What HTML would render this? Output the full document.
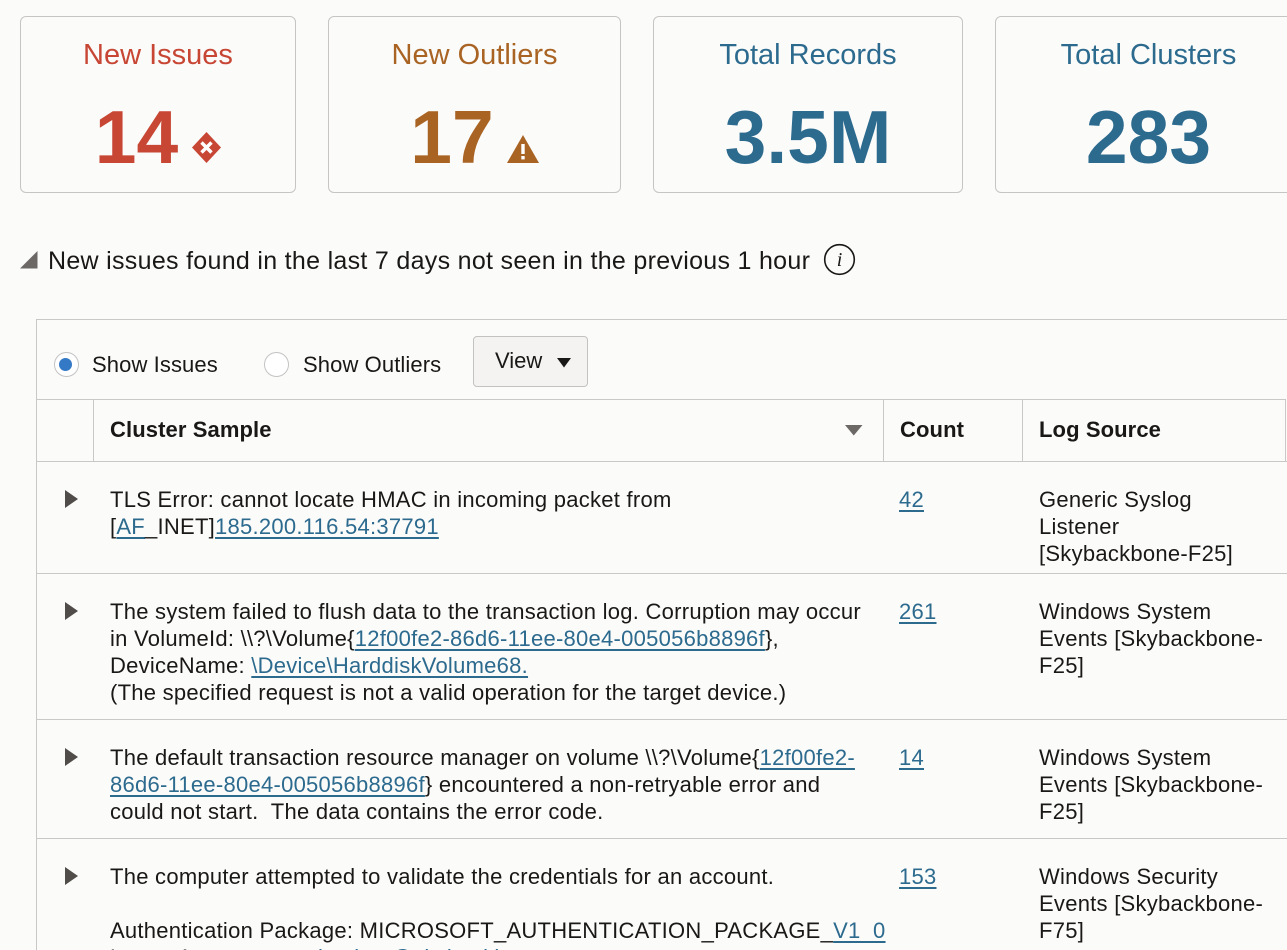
<!DOCTYPE html>
<html>
<head>
<meta charset="utf-8">
<style>
  html, body { margin:0; padding:0; width:1287px; height:950px; overflow:hidden; }
  body {
    background:#fbfbfa; color:#1a1816;
    font-family:"Liberation Sans", Arial, sans-serif;
  }
  #root { position:relative; width:1287px; height:950px; overflow:hidden; background:#fbfbfa; }
  .abs { position:absolute; }
  .card {
    position:absolute; top:16px; height:177px; box-sizing:border-box;
    border:1px solid #c7c5c3; border-radius:6px; background:#fbfbfa;
  }
  .ctitle {
    position:absolute; left:0; right:0; top:23.5px; text-align:center;
    font-size:29px; line-height:29px; white-space:nowrap;
  }
  .cnum {
    position:absolute; left:0; right:0; top:82.5px; text-align:center;
    font-size:75px; line-height:75px; font-weight:bold; white-space:nowrap;
  }
  .cnum svg { vertical-align:baseline; }
  .red { color:#c74634; }
  .brown { color:#a96424; }
  .blue { color:#2c6a8e; }
  .hl { position:absolute; height:1px; background:#cac8c6; }
  .vl { position:absolute; width:1px; background:#cac8c6; }
  .t22 {
    position:absolute; font-size:22px; line-height:27px; white-space:nowrap;
    letter-spacing:0.26px;
  }
  .hdr { font-weight:bold; letter-spacing:0.1px; }
  .lnk {
    color:#2c6a8e; text-decoration:underline; text-decoration-thickness:1.5px;
    text-underline-offset:3px;
  }
  .tri {
    position:absolute; width:0; height:0;
    border-top:9px solid transparent; border-bottom:9px solid transparent;
    border-left:13px solid #4f4c4a;
  }
  .radio {
    position:absolute; width:25px; height:25px; box-sizing:border-box;
    border:1.5px solid #c3c3c3; border-radius:50%; background:#fff;
  }
  .radio .dot {
    position:absolute; left:4.5px; top:4.5px; width:13px; height:13px;
    border-radius:50%; background:#3479c6;
  }
</style>
</head>
<body>
<div id="root">

<!-- Cards -->
<div class="card" style="left:20px; width:276px;">
  <div class="ctitle red">New Issues</div>
  <div class="cnum red">14<svg width="29" height="31" viewBox="0 0 29 31" style="margin-left:14px;"><polygon points="14.5,0 29,15.5 14.5,31 0,15.5" fill="#c74634"/><path d="M9.5,10.5 L19.5,20.5 M19.5,10.5 L9.5,20.5" stroke="#fff" stroke-width="3.4"/></svg></div>
</div>

<div class="card" style="left:328px; width:293px;">
  <div class="ctitle brown">New Outliers</div>
  <div class="cnum brown">17<svg width="32" height="28" viewBox="0 0 32 28" style="margin-left:13px;"><polygon points="16,0 32,28 0,28" fill="#a96424"/><rect x="14.3" y="9" width="3.4" height="10" fill="#fff"/><rect x="14.3" y="21" width="3.4" height="3.4" fill="#fff"/></svg></div>
</div>

<div class="card" style="left:653px; width:310px;">
  <div class="ctitle blue">Total Records</div>
  <div class="cnum blue">3.5M</div>
</div>

<div class="card" style="left:995px; width:400px;">
  <div class="ctitle blue" style="width:305px; right:auto;">Total Clusters</div>
  <div class="cnum blue" style="width:305px; right:auto;">283</div>
</div>

<!-- Section header -->
<svg class="abs" style="left:20px; top:251px;" width="18" height="18" viewBox="0 0 18 18"><polygon points="0,17.5 17.5,17.5 17.5,0" fill="#6b6866"/></svg>
<div class="abs" style="left:48px; top:248.5px; font-size:25px; line-height:25px; letter-spacing:0.3px; white-space:nowrap;">New issues found in the last 7 days not seen in the previous 1 hour</div>
<svg class="abs" style="left:823px; top:243px;" width="33" height="33" viewBox="0 0 33 33"><circle cx="16.5" cy="16.5" r="14.8" fill="none" stroke="#1a1816" stroke-width="1.6"/><text x="16.5" y="23" text-anchor="middle" font-family="Liberation Serif, serif" font-style="italic" font-size="20" fill="#1a1816">i</text></svg>

<!-- Table frame -->
<div class="hl" style="left:36px; top:319px; width:1251px;"></div>
<div class="vl" style="left:36px; top:319px; height:631px;"></div>

<!-- Toolbar -->
<div class="radio" style="left:53.5px; top:352px;"><div class="dot"></div></div>
<div class="t22" style="left:92px; top:351px; letter-spacing:0.1px;">Show Issues</div>
<div class="radio" style="left:263.5px; top:352px;"></div>
<div class="t22" style="left:303px; top:351px; letter-spacing:0.1px;">Show Outliers</div>
<div class="abs" style="left:473px; top:336px; width:115px; height:51px; box-sizing:border-box; border:1px solid #c4c2c0; border-radius:4px; background:#f4f3f1;"></div>
<div class="t22" style="left:495px; top:347px; letter-spacing:0;">View</div>
<svg class="abs" style="left:557px; top:358px;" width="14" height="10" viewBox="0 0 14 10"><polygon points="0,0 14,0 7,9.5" fill="#1a1816"/></svg>

<!-- Header row -->
<div class="hl" style="left:36px; top:399px; width:1250px;"></div>
<div class="hl" style="left:36px; top:461px; width:1251px;"></div>
<div class="vl" style="left:93px; top:399px; height:62px;"></div>
<div class="vl" style="left:883px; top:399px; height:62px;"></div>
<div class="vl" style="left:1022px; top:399px; height:62px;"></div>
<div class="vl" style="left:1285px; top:399px; height:62px;"></div>
<div class="t22 hdr" style="left:110px; top:416px;">Cluster Sample</div>
<svg class="abs" style="left:845px; top:425px;" width="18" height="11" viewBox="0 0 18 11"><polygon points="0,0 17.5,0 8.75,10.5" fill="#6b6866"/></svg>
<div class="t22 hdr" style="left:900px; top:416px;">Count</div>
<div class="t22 hdr" style="left:1039px; top:416px;">Log Source</div>

<!-- Row separators -->
<div class="hl" style="left:36px; top:573px; width:1251px;"></div>
<div class="hl" style="left:36px; top:719px; width:1251px;"></div>
<div class="hl" style="left:36px; top:838px; width:1251px;"></div>

<!-- Row 1 -->
<div class="tri" style="left:65px; top:490px;"></div>
<div class="t22" style="left:110px; top:486px;">TLS Error: cannot locate HMAC in incoming packet from<br>[<span class="lnk">AF</span>_INET]<span class="lnk">185.200.116.54:37791</span></div>
<div class="t22" style="left:899px; top:486px;"><span class="lnk">42</span></div>
<div class="t22" style="left:1039px; top:486px;">Generic Syslog<br>Listener<br>[Skybackbone-F25]</div>

<!-- Row 2 -->
<div class="tri" style="left:65px; top:602px;"></div>
<div class="t22" style="left:110px; top:598px;">The system failed to flush data to the transaction log. Corruption may occur<br>in VolumeId: \\?\Volume{<span class="lnk">12f00fe2-86d6-11ee-80e4-005056b8896f</span>},<br>DeviceName: <span class="lnk">\Device\HarddiskVolume68.</span><br>(The specified request is not a valid operation for the target device.)</div>
<div class="t22" style="left:899px; top:598px;"><span class="lnk">261</span></div>
<div class="t22" style="left:1039px; top:598px;">Windows System<br>Events [Skybackbone-<br>F25]</div>

<!-- Row 3 -->
<div class="tri" style="left:65px; top:748px;"></div>
<div class="t22" style="left:110px; top:744px;">The default transaction resource manager on volume \\?\Volume{<span class="lnk">12f00fe2-</span><br><span class="lnk">86d6-11ee-80e4-005056b8896f</span>} encountered a non-retryable error and<br>could not start.&nbsp; The data contains the error code.</div>
<div class="t22" style="left:899px; top:744px;"><span class="lnk">14</span></div>
<div class="t22" style="left:1039px; top:744px;">Windows System<br>Events [Skybackbone-<br>F25]</div>

<!-- Row 4 -->
<div class="tri" style="left:65px; top:867px;"></div>
<div class="t22" style="left:110px; top:863px;">The computer attempted to validate the credentials for an account.<br>&nbsp;<br>Authentication Package: MICROSOFT_AUTHENTICATION_PACKAGE_<span class="lnk">V1_0</span><br>Logon Account: <span class="lnk">svc_backup@skybackbone</span></div>
<div class="t22" style="left:899px; top:863px;"><span class="lnk">153</span></div>
<div class="t22" style="left:1039px; top:863px;">Windows Security<br>Events [Skybackbone-<br>F75]</div>

</div>
</body>
</html>
